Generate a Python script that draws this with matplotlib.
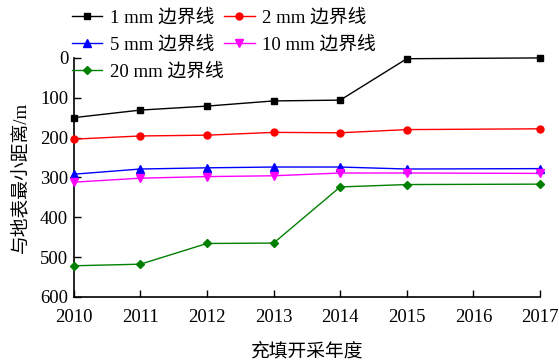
import matplotlib
matplotlib.use("Agg")
import matplotlib.pyplot as plt

plt.rcParams['font.family'] = ['Liberation Serif', 'Noto Sans CJK SC']
plt.rcParams['axes.unicode_minus'] = False

years = [2010, 2011, 2012, 2013, 2014, 2015, 2017]
labels = ["1 mm 边界线", "2 mm 边界线", "5 mm 边界线", "10 mm 边界线", "20 mm 边界线"]
d1 = [150, 131, 121, 108, 106, 2, 0]
d2 = [204, 196, 194, 187, 188, 180, 178]
d5 = [292, 279, 276, 274, 274, 279, 278]
d10 = [312, 302, 298, 296, 289, 289, 290]
d20 = [522, 518, 466, 465, 324, 318, 317]
xticks = [2010, 2011, 2012, 2013, 2014, 2015, 2016, 2017]
yticks = [0, 100, 200, 300, 400, 500, 600]

series = [d1, d2, d5, d10, d20]
colors = ["black", "red", "blue", "magenta", "green"]
markers = ["s", "o", "^", "v", "D"]
msizes = [4.5, 5, 5.5, 5.5, 4.5]

fig = plt.figure(figsize=(5.59, 3.62), dpi=100)
ax = fig.add_axes([0.132, 0.180, 0.834, 0.660])

handles = []
for vals, c, m, ms, lab in zip(series, colors, markers, msizes, labels):
    h, = ax.plot(years, vals, color=c, marker=m, markersize=ms, lw=1.0,
                 label=lab, clip_on=False, zorder=3)
    handles.append(h)

ax.set_xlim(2010, 2017)
ax.set_ylim(600, 0)
ax.set_xticks(xticks)
ax.set_yticks(yticks)
ax.tick_params(direction='in', length=5, width=1, labelsize=13.5)
ax.tick_params(axis='x', pad=9)
ax.tick_params(axis='y', pad=4)
for s in ["top", "right"]:
    ax.spines[s].set_visible(False)
for s in ["left", "bottom"]:
    ax.spines[s].set_linewidth(1.2)

ax.set_xlabel("充填开采年度", fontsize=13.5, labelpad=12)
ax.set_ylabel("与地表最小距离/m", fontsize=13.5, labelpad=8)

# legend filled row by row: 1 mm, 2 mm / 5 mm, 10 mm / 20 mm
order = [0, 2, 4, 1, 3]
fig.legend(handles=[handles[i] for i in order], labels=[labels[i] for i in order],
           ncol=2, loc='upper left',
           bbox_to_anchor=(0.128, 0.975), frameon=False, fontsize=13.5,
           handlelength=1.65, handletextpad=0.4, columnspacing=0.0,
           labelspacing=0.5, borderpad=0, borderaxespad=0)

fig.savefig("out.png", dpi=100)
